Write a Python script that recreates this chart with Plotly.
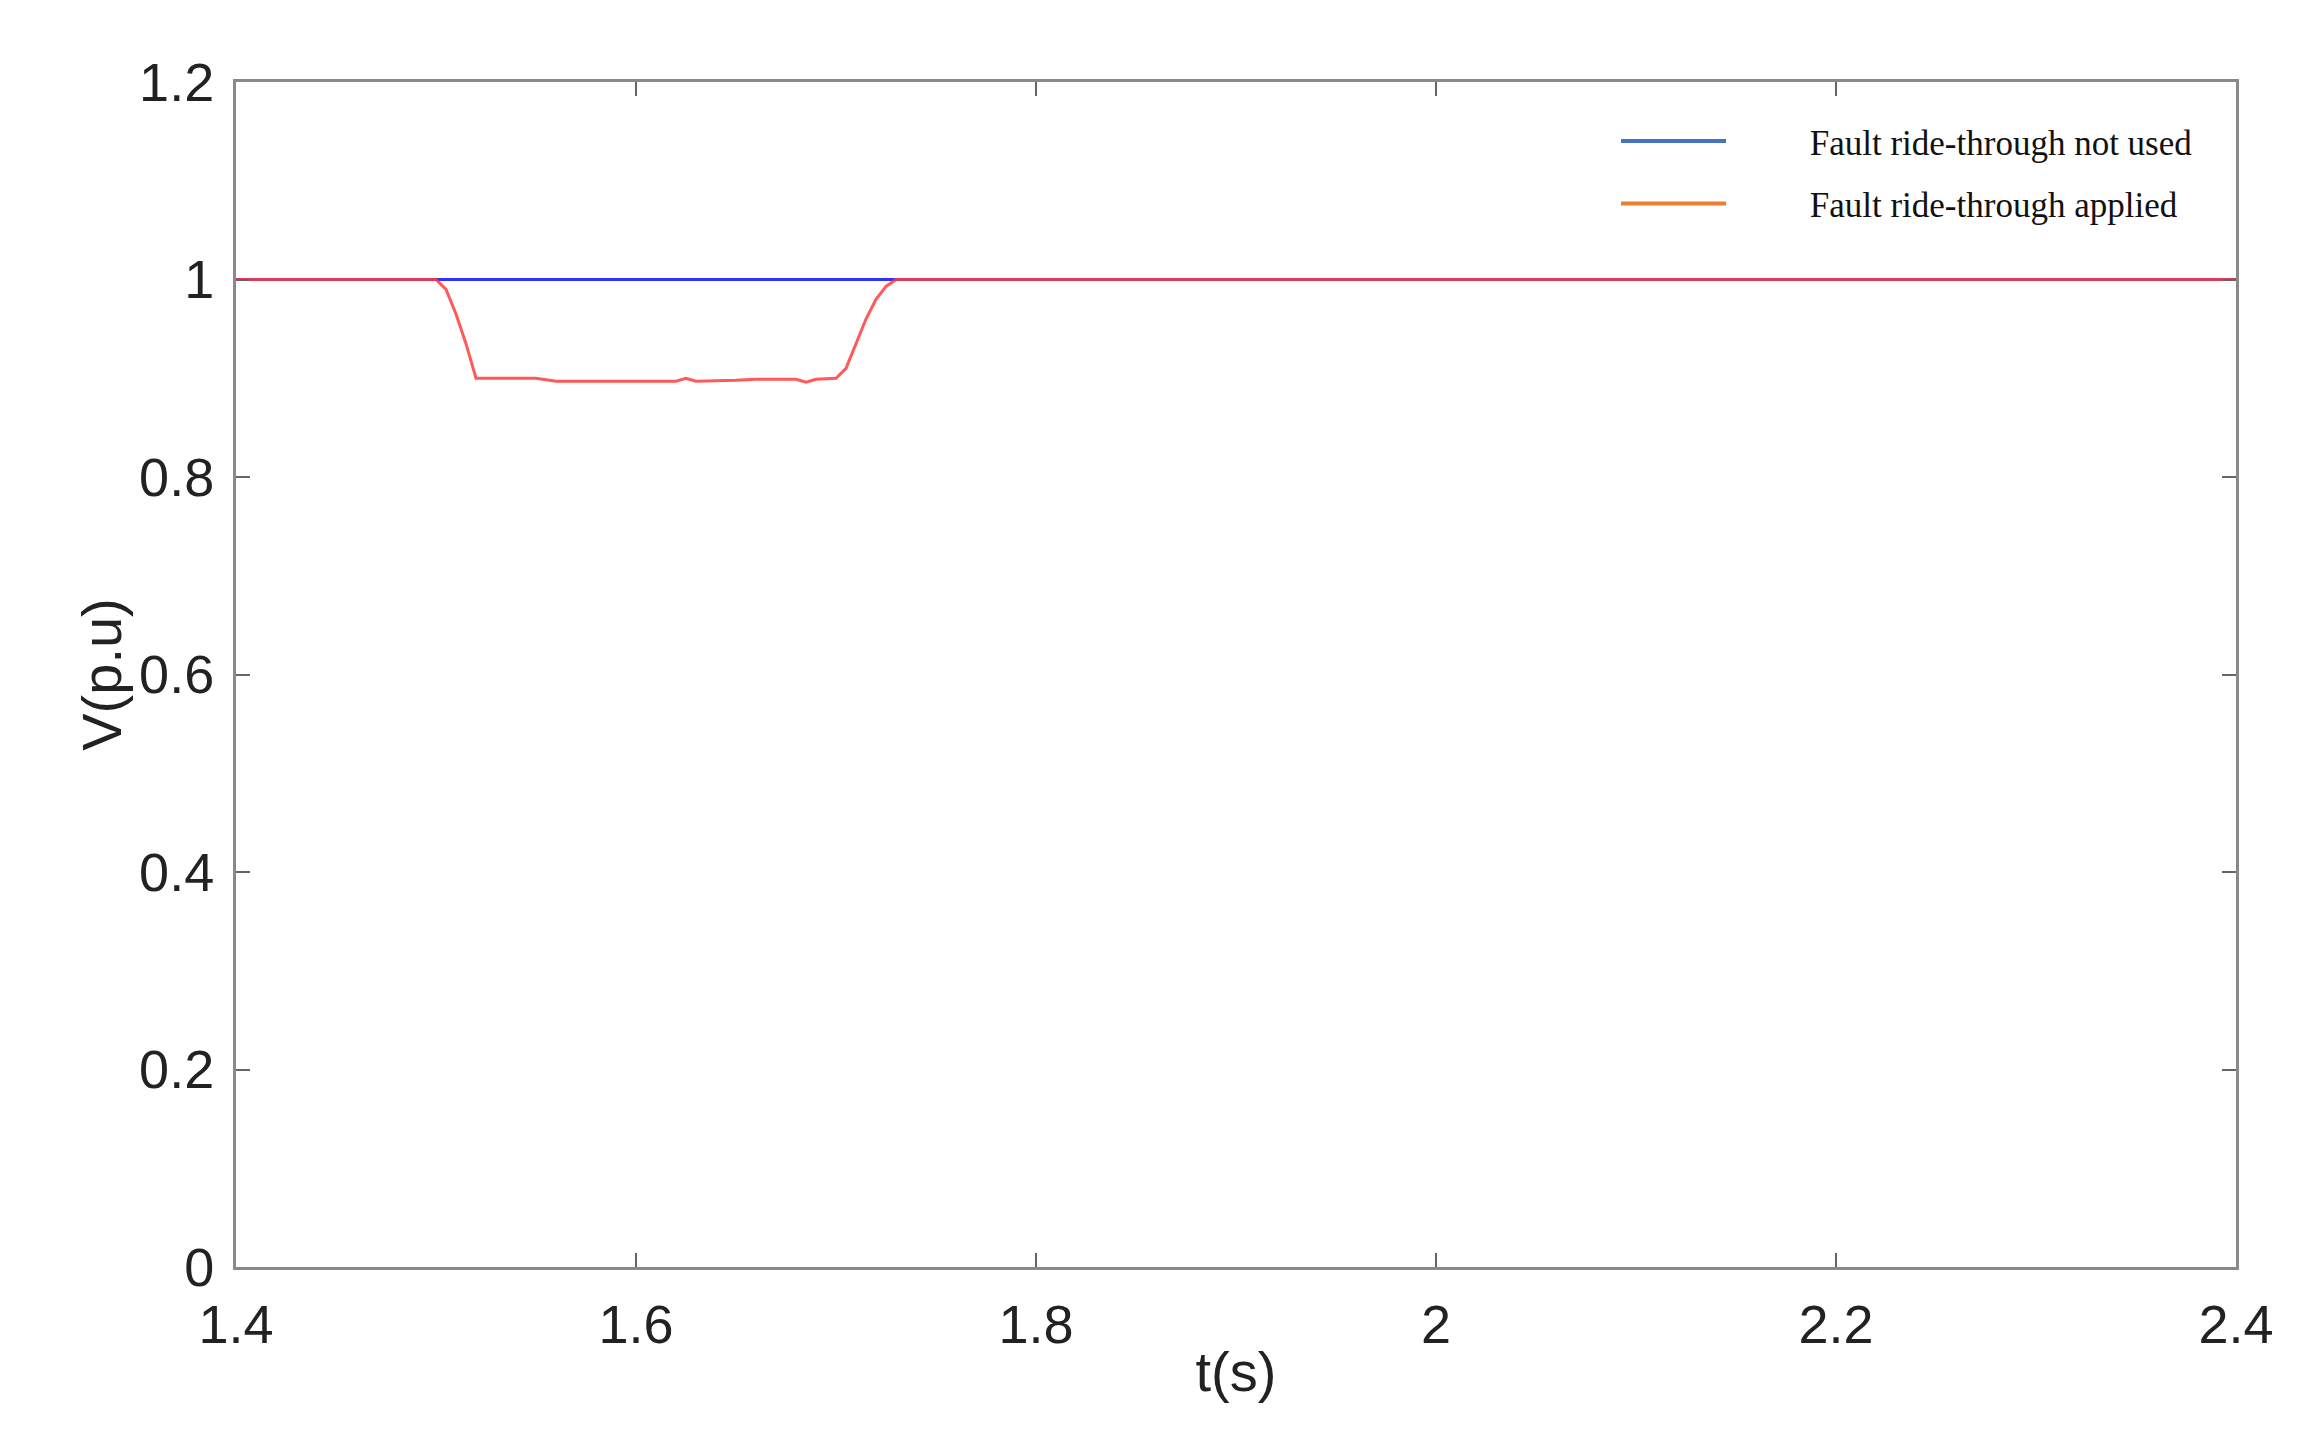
import plotly.graph_objects as go

t_blue = [1.4, 2.4]
v_blue = [1.0, 1.0]

t_red = [1.4, 1.5, 1.505, 1.51, 1.515, 1.52, 1.55, 1.56, 1.6, 1.62, 1.625, 1.63,
         1.65, 1.66, 1.68, 1.685, 1.69, 1.70, 1.705, 1.71, 1.715, 1.72, 1.725, 1.73, 2.4]
v_red = [1.0, 1.0, 0.99, 0.965, 0.935, 0.9, 0.9, 0.897, 0.897, 0.897, 0.9, 0.897,
         0.898, 0.899, 0.899, 0.896, 0.899, 0.9, 0.91, 0.935, 0.96, 0.98, 0.993, 1.0, 1.0]

legend_names = ["Fault ride-through not used", "Fault ride-through applied"]
legend_colors = ["#4472C4", "#ED7D31"]

fig = go.Figure()
fig.add_trace(go.Scatter(x=t_blue, y=v_blue, mode="lines",
                         line=dict(color="#3030ff", width=3), showlegend=False))
fig.add_trace(go.Scatter(x=t_red, y=v_red, mode="lines",
                         line=dict(color="rgba(255,60,60,0.85)", width=3), showlegend=False))
for i, (name, c) in enumerate(zip(legend_names, legend_colors)):
    fig.add_trace(go.Scatter(x=[None], y=[None], mode="lines",
                             name="\u00a0" * 9 + name, legendgroup=f"g{i}",
                             line=dict(color=c, width=4)))

axis = dict(showline=True, linecolor="#8a8a8a", linewidth=3, mirror="ticks",
            ticks="inside", ticklen=14, tickwidth=2, tickcolor="#666",
            showgrid=False, zeroline=False, ticklabelstandoff=8,
            tickfont=dict(family="Liberation Sans", size=54, color="#222"))

fig.update_layout(
    width=2306, height=1440, plot_bgcolor="white", paper_bgcolor="white",
    margin=dict(l=228, r=78, t=74, b=181),
    xaxis=dict(axis, range=[1.4, 2.4], tickvals=[1.4, 1.6, 1.8, 2, 2.2, 2.4],
               ticktext=["1.4", "1.6", "1.8", "2", "2.2", "2.4"],
               title=dict(text="t(s)", font=dict(family="Liberation Sans", size=56, color="#222"), standoff=0)),
    yaxis=dict(axis, range=[0, 1.2], tickvals=[0, 0.2, 0.4, 0.6, 0.8, 1, 1.2],
               ticktext=["0", "0.2", "0.4", "0.6", "0.8", "1", "1.2"],
               title=dict(text="V(p.u)", font=dict(family="Liberation Sans", size=56, color="#222"), standoff=0)),
    legend=dict(x=0.69, y=0.975, xanchor="left", yanchor="top", bgcolor="white",
                font=dict(family="Liberation Serif", size=35, color="#111"),
                itemwidth=105, tracegroupgap=14),
)

fig.write_html("out.html")
